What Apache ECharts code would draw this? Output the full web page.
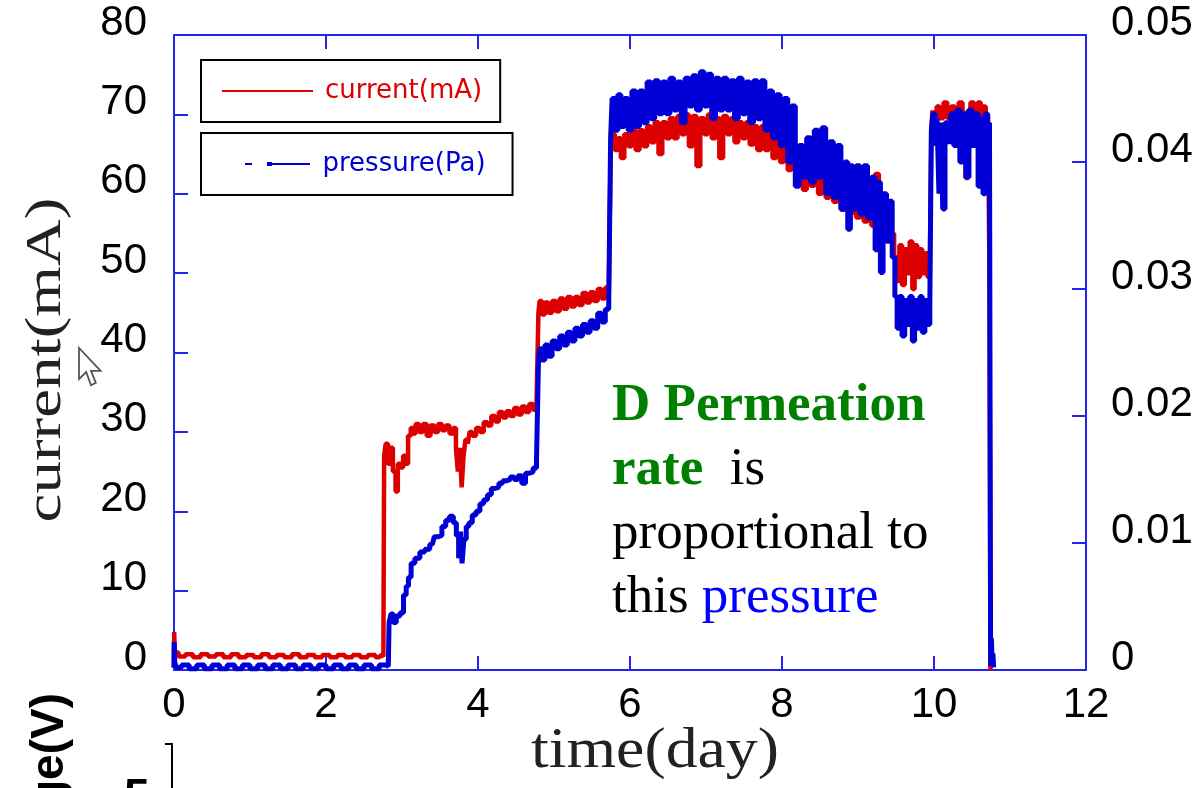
<!DOCTYPE html>
<html>
<head>
<meta charset="utf-8">
<script src="https://cdn.jsdelivr.net/npm/echarts@6/dist/echarts.min.js"></script>
<style>
html,body{margin:0;padding:0;background:#fff;overflow:hidden;}
#c{width:1192px;height:788px;}
</style>
</head>
<body>
<div id="c"></div>
<script>
// ---- data ----
const xTicks = [0, 2, 4, 6, 8, 10, 12];
const currentTicks = [0, 10, 20, 30, 40, 50, 60, 70, 80];
const pressureTicks = ['0', '0.01', '0.02', '0.03', '0.04', '0.05'];

// [day, current (mA)]
const currentData = [
  [0.0,0.3],[0.005,4.8],[0.01,3.0],[0.02,2.2],[0.1,1.7],[0.2,2.0],[0.3,1.6],[0.4,2.0],[0.5,1.7],[0.6,2.0],
  [0.7,1.6],[0.8,2.0],[0.9,1.6],[1.0,1.9],[1.1,1.6],[1.2,2.0],[1.3,1.6],[1.4,1.9],[1.5,1.6],[1.6,2.0],
  [1.7,1.6],[1.8,1.9],[1.9,1.6],[2.0,1.9],[2.1,1.6],[2.2,1.9],[2.3,1.6],[2.4,1.9],[2.5,1.6],[2.6,1.9],
  [2.7,1.6],[2.75,1.9],[2.76,1.7],
  [2.77,27],[2.8,28.5],[2.83,26],[2.86,28],[2.9,25],[2.93,22.5],[2.96,26],[3.0,25.5],[3.03,27],[3.06,26],
  [3.1,29.5],[3.13,30.5],[3.16,29.8],[3.2,31],[3.25,30],[3.3,31],[3.35,29.5],[3.4,30.8],[3.45,30],[3.5,31],
  [3.55,30.2],[3.6,30.8],[3.65,29.8],[3.7,30.5],[3.72,28],[3.75,25],[3.77,28],[3.8,23],[3.82,27],[3.85,29],
  [3.88,28.5],[3.9,30],[3.95,29.5],[4.0,30.5],[4.05,30],[4.1,31.2],[4.15,30.8],[4.2,32],[4.25,31.3],[4.3,32.5],
  [4.35,31.8],[4.4,32.6],[4.45,32],[4.5,33],[4.55,32.2],[4.6,33.2],[4.65,32.5],[4.7,33.5],[4.75,32.8],[4.79,33.5],
  [4.8,45],[4.82,46.5],[4.86,44.8],[4.9,46.3],[4.95,45],[5.0,46.5],[5.05,45.2],[5.1,46.8],[5.15,45.5],[5.2,47],
  [5.25,45.8],[5.3,47],[5.35,46],[5.4,47.5],[5.45,46.3],[5.5,47.6],[5.55,46.5],[5.6,48],[5.65,46.8],[5.7,48.2],[5.74,47],
  [5.75,65],[5.78,67.5],[5.82,65.5],[5.86,67],[5.9,64.5],[5.95,67.5],[6.0,66],[6.05,68],[6.1,65.5],[6.15,68],
  [6.2,66],[6.25,68.5],[6.3,66.5],[6.35,69],[6.4,65],[6.45,69],[6.5,67],[6.55,69.5],[6.6,67],[6.65,69.8],
  [6.7,67.5],[6.75,70],[6.8,66],[6.85,69.8],[6.9,63.5],[6.95,69.5],[7.0,67.5],[7.05,70],[7.1,67],[7.15,69.5],
  [7.2,64.5],[7.25,69.8],[7.3,67.5],[7.35,69.5],[7.4,66.5],[7.45,69],[7.5,67],[7.55,69],[7.6,66.2],[7.65,68.5],
  [7.7,65.5],[7.75,68.5],[7.8,65.5],[7.85,68],[7.9,64.5],[7.95,67.5],[8.0,64],[8.05,67],[8.1,63],[8.15,65],
  [8.2,61],[8.25,63.5],[8.3,60.5],[8.35,63],[8.4,61],[8.45,63],[8.5,60],[8.55,62.5],[8.6,59.5],[8.65,61.5],
  [8.7,59],[8.75,61],[8.8,58],[8.85,60],[8.9,57.5],[8.95,60],[9.0,57],[9.05,59.5],[9.1,56.5],[9.15,59],
  [9.2,56],[9.25,62.5],[9.3,55],[9.35,57],[9.4,54],[9.45,55],
  [9.5,52],[9.53,49],[9.56,53.5],[9.6,48.5],[9.63,53],[9.66,50],[9.7,54],[9.73,48],[9.76,53.5],[9.8,49.5],
  [9.83,53],[9.86,50],[9.9,52.5],[9.93,49.5],[9.96,51],
  [9.97,68],[9.99,70.5],[10.02,69],[10.05,71],[10.1,69.5],[10.15,71.5],[10.2,69.5],[10.25,71],[10.3,69.5],[10.35,71.5],
  [10.4,70],[10.43,62],[10.46,70.5],[10.5,71.5],[10.55,70],[10.6,71.5],[10.63,64],[10.66,71],[10.7,61],[10.72,70],
  [10.74,50],[10.745,0]
];

// [day, pressure (Pa)]
const pressureData = [
  [0.0,0.0002],[0.003,0.0022],[0.008,0.0018],[0.012,0.0006],[0.05,0.0002],[0.15,0.0004],[0.25,0.0001],[0.35,0.0004],
  [0.45,0.0001],[0.55,0.0004],[0.65,0.0001],[0.75,0.0004],[0.85,0.0001],[0.95,0.0004],[1.05,0.0001],[1.15,0.0004],
  [1.25,0.0001],[1.35,0.0004],[1.45,0.0001],[1.55,0.0004],[1.65,0.0001],[1.75,0.0004],[1.85,0.0001],[1.95,0.0004],
  [2.05,0.0001],[2.15,0.0004],[2.25,0.0001],[2.35,0.0004],[2.45,0.0001],[2.55,0.0004],[2.65,0.0001],[2.75,0.0004],
  [2.82,0.0003],[2.84,0.00375],[2.87,0.0044],[2.9,0.00375],[2.95,0.00425],[3.0,0.0045],[3.04,0.0059],[3.07,0.0066],
  [3.1,0.0073],[3.14,0.0084],[3.2,0.0088],[3.27,0.0093],[3.33,0.0095],[3.4,0.0099],[3.45,0.0105],[3.5,0.0106],
  [3.55,0.0113],[3.6,0.0118],[3.65,0.0121],[3.7,0.0116],[3.73,0.0106],[3.76,0.0088],[3.78,0.0109],[3.8,0.0084],
  [3.83,0.0103],[3.86,0.0113],[3.9,0.0116],[3.95,0.0122],[4.0,0.0125],[4.05,0.0131],[4.1,0.0134],[4.15,0.0138],
  [4.2,0.0143],[4.25,0.0144],[4.3,0.0147],[4.35,0.0149],[4.4,0.015],[4.45,0.0152],[4.5,0.015],[4.55,0.0153],
  [4.6,0.0147],[4.65,0.0155],[4.7,0.0156],[4.75,0.0159],[4.79,0.0166],
  [4.8,0.0241],[4.82,0.0253],[4.86,0.0244],[4.9,0.0256],[4.95,0.0247],[5.0,0.0259],[5.05,0.0253],[5.1,0.0263],
  [5.15,0.0256],[5.2,0.0266],[5.25,0.0259],[5.3,0.0269],[5.35,0.0263],[5.4,0.0272],[5.45,0.0266],[5.5,0.0275],
  [5.55,0.0269],[5.6,0.0281],[5.65,0.0274],[5.7,0.0284],[5.74,0.0288],
  [5.75,0.0419],[5.78,0.045],[5.82,0.0425],[5.86,0.0453],[5.9,0.0428],[5.95,0.045],[6.0,0.0425],[6.05,0.0456],
  [6.1,0.0428],[6.15,0.0456],[6.2,0.0431],[6.25,0.0463],[6.3,0.0434],[6.35,0.0464],[6.4,0.0438],[6.45,0.0463],
  [6.5,0.0438],[6.55,0.0466],[6.6,0.0441],[6.65,0.0463],[6.7,0.0431],[6.75,0.0466],[6.8,0.0444],[6.85,0.0468],
  [6.9,0.0441],[6.95,0.0471],[7.0,0.0444],[7.05,0.0469],[7.1,0.0434],[7.15,0.0466],[7.2,0.0441],[7.25,0.0466],
  [7.3,0.0441],[7.35,0.0464],[7.4,0.0434],[7.45,0.0466],[7.5,0.0438],[7.55,0.0463],[7.6,0.0431],[7.65,0.0464],
  [7.7,0.0434],[7.75,0.0464],[7.8,0.0425],[7.85,0.0456],[7.9,0.0419],[7.95,0.0453],[8.0,0.0413],[8.05,0.045],
  [8.1,0.04],[8.15,0.0444],[8.2,0.0381],[8.25,0.0413],[8.3,0.0388],[8.35,0.0419],[8.4,0.0384],[8.45,0.0425],
  [8.5,0.0388],[8.55,0.0427],[8.6,0.0375],[8.65,0.0416],[8.7,0.0372],[8.75,0.0413],[8.8,0.0363],[8.85,0.04],
  [8.88,0.0347],[8.92,0.0397],[8.95,0.0363],[9.0,0.0397],[9.05,0.0359],[9.1,0.0397],[9.15,0.0356],[9.2,0.0388],
  [9.25,0.0331],[9.28,0.0384],[9.31,0.0313],[9.35,0.0375],[9.4,0.0338],[9.43,0.0369],[9.47,0.0325],
  [9.5,0.0294],[9.53,0.0269],[9.56,0.0294],[9.6,0.0263],[9.63,0.0291],[9.66,0.0272],[9.7,0.0294],[9.73,0.0259],
  [9.76,0.0291],[9.8,0.0269],[9.83,0.0294],[9.86,0.0266],[9.9,0.0291],[9.93,0.0272],[9.96,0.0288],
  [9.97,0.0425],[10.0,0.0438],[10.03,0.0413],[10.05,0.0434],[10.08,0.0375],[10.1,0.0431],[10.13,0.0363],[10.16,0.0431],
  [10.2,0.0416],[10.24,0.0438],[10.28,0.0413],[10.32,0.0441],[10.36,0.04],[10.4,0.0438],[10.44,0.0388],[10.48,0.0441],
  [10.52,0.0413],[10.56,0.0438],[10.6,0.0381],[10.63,0.0434],[10.66,0.0375],[10.69,0.0438],[10.72,0.0388],[10.74,0.0431],
  [10.75,0.0003],[10.76,0.0025],[10.77,0.0006],[10.78,0.0013],[10.79,0.0002]
];

// ---- chart ----
const AXIS = '#2424ee';
const RED = '#dd0000';
const BLUE = '#0000d6';
const NUMFONT = '"Liberation Sans",Arial,sans-serif';
const SERIF = '"Liberation Serif","Times New Roman",serif';

const chart = echarts.init(document.getElementById('c'), null, {renderer: 'canvas'});

const axisCommon = {
  axisLine: {show: true, onZero: false, lineStyle: {color: AXIS, width: 2}},
  axisTick: {show: true, inside: true, length: 14, lineStyle: {color: AXIS, width: 2}},
  splitLine: {show: false}
};

chart.setOption({
  animation: false,
  backgroundColor: '#ffffff',
  grid: {left: 174, right: 106, top: 35, bottom: 118, containLabel: false, outerBoundsMode: 'none'},
  xAxis: [
    Object.assign({
      type: 'value', min: xTicks[0], max: xTicks[xTicks.length - 1], interval: 2, position: 'bottom',
      axisLabel: {show: true, color: '#000', fontFamily: NUMFONT, fontSize: 42, margin: 14,
        showMinLabel: true, showMaxLabel: true}
    }, axisCommon),
    Object.assign({
      type: 'value', min: xTicks[0], max: xTicks[xTicks.length - 1], interval: 2, position: 'top',
      axisLabel: {show: false}
    }, axisCommon)
  ],
  yAxis: [
    Object.assign({
      type: 'value', min: currentTicks[0], max: currentTicks[currentTicks.length - 1], interval: 10, position: 'left',
      axisLabel: {show: true, color: '#000', fontFamily: NUMFONT, fontSize: 42, margin: 27,
        verticalAlign: 'bottom', lineHeight: 24, showMinLabel: true, showMaxLabel: true}
    }, axisCommon),
    Object.assign({
      type: 'value', min: 0, max: Number(pressureTicks[pressureTicks.length - 1]), interval: 0.01, position: 'right',
      axisLabel: {show: true, color: '#000', fontFamily: NUMFONT, fontSize: 42, margin: 25,
        verticalAlign: 'bottom', lineHeight: 24, showMinLabel: true, showMaxLabel: true,
        formatter: function (v) { const i = Math.round(v / 0.01); return pressureTicks[i]; }}
    }, axisCommon)
  ],
  legend: [
    {
      data: ['current(mA)'], left: 201, top: 60, orient: 'horizontal', selectedMode: false,
      borderColor: '#000', borderWidth: 2, padding: [16, 18, 16, 21],
      icon: 'rect', itemWidth: 91, itemHeight: 2,
      textStyle: {color: RED, fontFamily: '"DejaVu Sans",sans-serif', fontSize: 26, lineHeight: 30, padding: [0, 0, 0, 7]}
    },
    {
      data: ['pressure(Pa)'], left: 201, top: 133, orient: 'horizontal', selectedMode: false,
      borderColor: '#000', borderWidth: 2, padding: [16, 27, 16, 44],
      icon: 'path://M0,1h7v2h-7zM22,0h5v4h-5zM27,1h38v2h-38z', itemWidth: 66, itemHeight: 4,
      textStyle: {color: BLUE, fontFamily: '"DejaVu Sans",sans-serif', fontSize: 26, lineHeight: 30, padding: [0, 0, 0, 7]}
    }
  ],
  series: [
    {
      name: 'current(mA)', type: 'line', xAxisIndex: 0, yAxisIndex: 0, step: 'middle',
      data: currentData, showSymbol: false, symbol: 'none',
      lineStyle: {color: RED, width: 4.5}, itemStyle: {color: RED}, z: 2
    },
    {
      name: 'pressure(Pa)', type: 'line', xAxisIndex: 0, yAxisIndex: 1, step: 'middle',
      data: pressureData, showSymbol: false, symbol: 'none',
      lineStyle: {color: BLUE, width: 5}, itemStyle: {color: BLUE}, z: 3
    }
  ],
  graphic: [
    { // y axis title
      type: 'text', x: 47, y: 360, rotation: Math.PI / 2, scaleX: 1.3, scaleY: 1,
      style: {text: 'current(mA)', font: '50px ' + SERIF, fill: '#222', align: 'center', verticalAlign: 'middle'}
    },
    { // x axis title
      type: 'text', x: 655, y: 752, scaleX: 1.1,
      style: {text: 'time(day)', font: '58px ' + SERIF, fill: '#222', align: 'center', verticalAlign: 'middle'}
    },
    { // annotation
      type: 'text', x: 612, y: 374,
      style: {
        text: '{g|D Permeation}\n{g|rate}{k|  is}\n{k|proportional to}\n{k|this }{b|pressure}',
        font: '53px ' + SERIF, lineHeight: 64,
        rich: {
          g: {font: 'bold 53px ' + SERIF, fill: '#008000', lineHeight: 64},
          k: {font: '53px ' + SERIF, fill: '#000', lineHeight: 64},
          b: {font: '53px ' + SERIF, fill: '#0000ff', lineHeight: 64}
        }
      }
    },
    { // partially visible title of the chart below
      type: 'text', x: 50, y: 693, rotation: Math.PI / 2,
      style: {text: 'Voltage(V)', font: 'bold 46px "Liberation Sans",Arial,sans-serif', fill: '#000', align: 'right', verticalAlign: 'middle'}
    },
    {
      type: 'text', x: 124, y: 775,
      style: {text: '5', font: 'bold 46px "Liberation Sans",Arial,sans-serif', fill: '#000', align: 'left', verticalAlign: 'top'}
    },
    {
      type: 'polyline', shape: {points: [[165, 744], [172, 744], [172, 788]]},
      style: {stroke: '#000', lineWidth: 2, fill: null}
    },
    { // mouse cursor
      type: 'polygon', x: 79, y: 348, scaleX: 1.2, scaleY: 1.2,
      shape: {points: [[0, 0], [0, 26], [6, 20], [10, 31], [14, 29], [10, 19], [18, 19]]},
      style: {fill: '#fff', stroke: '#555', lineWidth: 1.5}
    }
  ]
});
</script>
</body>
</html>
